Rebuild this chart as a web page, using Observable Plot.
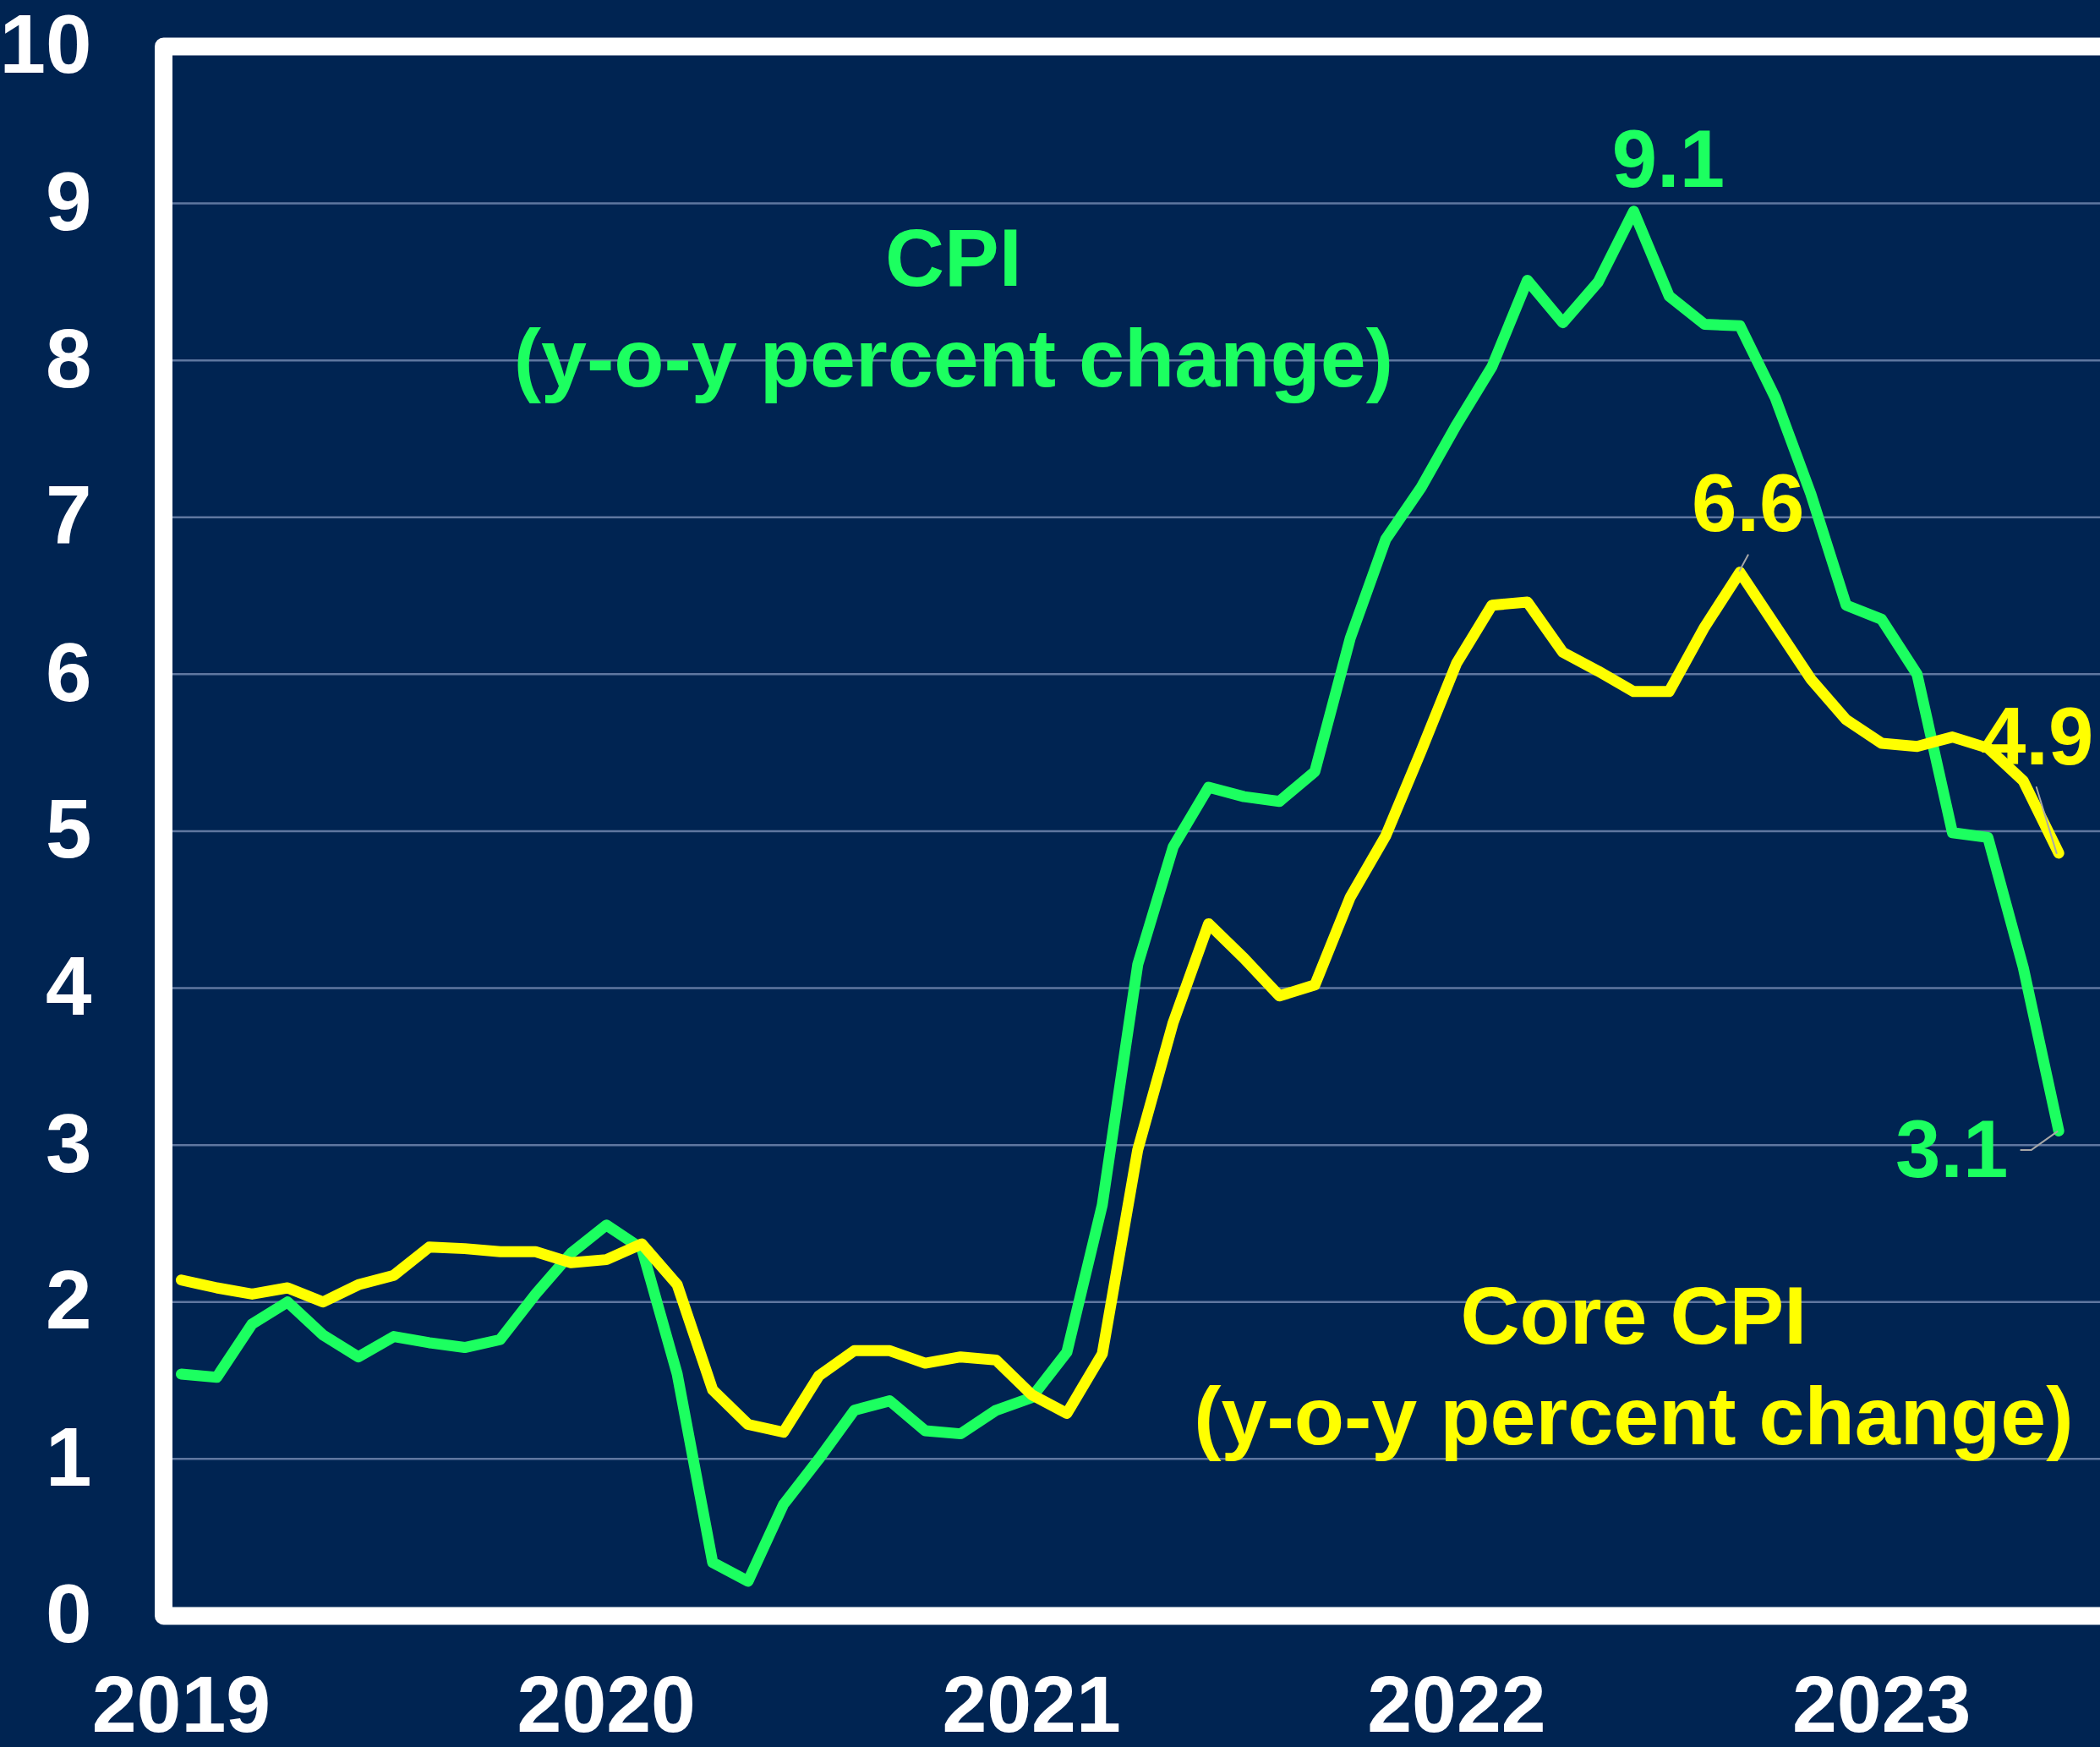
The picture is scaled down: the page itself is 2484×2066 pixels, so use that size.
<!DOCTYPE html>
<html>
<head>
<meta charset="utf-8">
<script src="https://cdn.jsdelivr.net/npm/d3@7"></script>
<script src="https://cdn.jsdelivr.net/npm/@observablehq/plot@0.6"></script>
<style>
  html, body { margin: 0; padding: 0; background: #002452; overflow: hidden; }
  #chart svg { display: block; }
</style>
</head>
<body>
<div id="chart"></div>
<script>
// Monthly y-o-y percent change, Jan 2019 .. Jun 2023
const cpi = [
  1.54, 1.52, 1.86, 2.00, 1.79, 1.65, 1.78, 1.74, 1.71, 1.76, 2.05, 2.31,
  2.49, 2.34, 1.54, 0.34, 0.22, 0.71, 1.00, 1.31, 1.37, 1.18, 1.16, 1.31,
  1.39, 1.68, 2.62, 4.15, 4.90, 5.28, 5.22, 5.19, 5.38, 6.23, 6.86, 7.19,
  7.59, 7.96, 8.51, 8.24, 8.50, 8.95, 8.41, 8.23, 8.22, 7.76, 7.15, 6.44,
  6.35, 6.00, 4.99, 4.96, 4.13, 3.09
];
const coreCpi = [
  2.14, 2.09, 2.05, 2.09, 2.00, 2.11, 2.17, 2.35, 2.34, 2.32, 2.32, 2.25,
  2.27, 2.37, 2.11, 1.44, 1.22, 1.17, 1.53, 1.69, 1.69, 1.61, 1.65, 1.63,
  1.41, 1.29, 1.67, 2.97, 3.78, 4.41, 4.19, 3.95, 4.02, 4.58, 4.97, 5.51,
  6.07, 6.44, 6.46, 6.14, 6.02, 5.89, 5.89, 6.30, 6.65, 6.31, 5.97, 5.71,
  5.56, 5.54, 5.60, 5.53, 5.32, 4.86
];
const yearLabels = ["2019", "2020", "2021", "2022", "2023"];
const yTicks = [0, 1, 2, 3, 4, 5, 6, 7, 8, 9, 10];
const seriesNames = ["CPI", "Core CPI"];
const seriesColors = ["#1cff60", "#ffff00"];

// Annotations (positions in data units: month index, percent)
const titleTexts = [
  {series: "CPI", x: 21.8, y: 8.64, text: "CPI"},
  {series: "CPI", x: 21.8, y: 8.00, text: "(y-o-y percent change)"},
  {series: "Core CPI", x: 41.0, y: 1.90, text: "Core CPI"},
  {series: "Core CPI", x: 41.0, y: 1.26, text: "(y-o-y percent change)"}
];
const valueTexts = [
  {series: "CPI", x: 41.98, y: 9.27, text: "9.1"},
  {series: "Core CPI", x: 44.23, y: 7.08, text: "6.6"},
  {series: "Core CPI", x: 52.39, y: 5.59, text: "4.9"},
  {series: "CPI", x: 49.98, y: 2.96, text: "3.1"}
];
const leaders = [
  {id: "a", x: 44.23, y: 6.76}, {id: "a", x: 43.99, y: 6.66},
  {id: "b", x: 52.37, y: 5.28}, {id: "b", x: 52.94, y: 4.86},
  {id: "c", x: 51.93, y: 2.968}, {id: "c", x: 52.22, y: 2.968}, {id: "c", x: 52.96, y: 3.086}
];

const rows = [];
cpi.forEach((v, i) => rows.push({series: "CPI", i, v}));
coreCpi.forEach((v, i) => rows.push({series: "Core CPI", i, v}));

const chart = Plot.plot({
  width: 2484,
  height: 2066,
  marginLeft: 193,
  marginTop: 54.5,
  marginBottom: 155.6,
  marginRight: -34.5,
  style: {
    fontFamily: "'Liberation Sans', Arial, sans-serif",
    background: "#002452",
    color: "white",
    overflow: "visible"
  },
  x: {type: "linear", domain: [-0.5, 55]},
  y: {domain: [0, 10]},
  color: {domain: seriesNames, range: seriesColors},
  marks: [
    Plot.gridY(yTicks, {stroke: "#5f77a0", strokeOpacity: 1, strokeWidth: 2.5}),
    Plot.line(rows.filter(d => d.series === "CPI"), {
      x: "i", y: "v", stroke: "series", strokeWidth: 13,
      strokeLinejoin: "round", strokeLinecap: "round"
    }),
    Plot.line(rows.filter(d => d.series === "Core CPI"), {
      x: "i", y: "v", stroke: "series", strokeWidth: 13,
      strokeLinejoin: "round", strokeLinecap: "round"
    }),
    Plot.line(leaders, {x: "x", y: "y", z: "id", stroke: "#a8a8a8", strokeWidth: 2}),
    Plot.frame({stroke: "white", strokeWidth: 21, strokeLinejoin: "round"}),
    Plot.axisY(yTicks, {
      tickSize: 0, tickPadding: 85, fontSize: 98, fontWeight: "bold",
      fill: "white", label: null, tickFormat: d => String(d)
    }),
    Plot.axisX(yearLabels.map((_, k) => k * 12), {
      tickSize: 0, tickPadding: 70, fontSize: 95, fontWeight: "bold",
      fill: "white", label: null, tickFormat: d => yearLabels[d / 12]
    }),
    Plot.text(titleTexts, {
      x: "x", y: "y", text: "text", fill: "series",
      fontSize: 97, fontWeight: "bold", textAnchor: "middle",
      ariaLabel: "series title"
    }),
    Plot.text(valueTexts, {
      x: "x", y: "y", text: "text", fill: "series",
      fontSize: 96, fontWeight: "bold", textAnchor: "middle",
      ariaLabel: "value label"
    })
  ]
});

document.getElementById("chart").appendChild(chart);

// dark glow behind the series titles
const svg = d3.select(chart);
const defs = svg.insert("defs", ":first-child");
const f = defs.append("filter").attr("id", "glow")
  .attr("x", "-10%").attr("y", "-40%").attr("width", "120%").attr("height", "180%");
f.append("feMorphology").attr("in", "SourceAlpha").attr("operator", "dilate").attr("radius", 3).attr("result", "d");
f.append("feGaussianBlur").attr("in", "d").attr("stdDeviation", 6).attr("result", "b");
f.append("feOffset").attr("in", "b").attr("dx", 4).attr("dy", 5).attr("result", "o");
f.append("feFlood").attr("flood-color", "#000a1c").attr("flood-opacity", 0.9).attr("result", "c");
f.append("feComposite").attr("in", "c").attr("in2", "o").attr("operator", "in").attr("result", "s");
const m = f.append("feMerge");
m.append("feMergeNode").attr("in", "s");
m.append("feMergeNode").attr("in", "SourceGraphic");
svg.selectAll('g[aria-label="series title"]').attr("filter", "url(#glow)");
</script>
</body>
</html>
